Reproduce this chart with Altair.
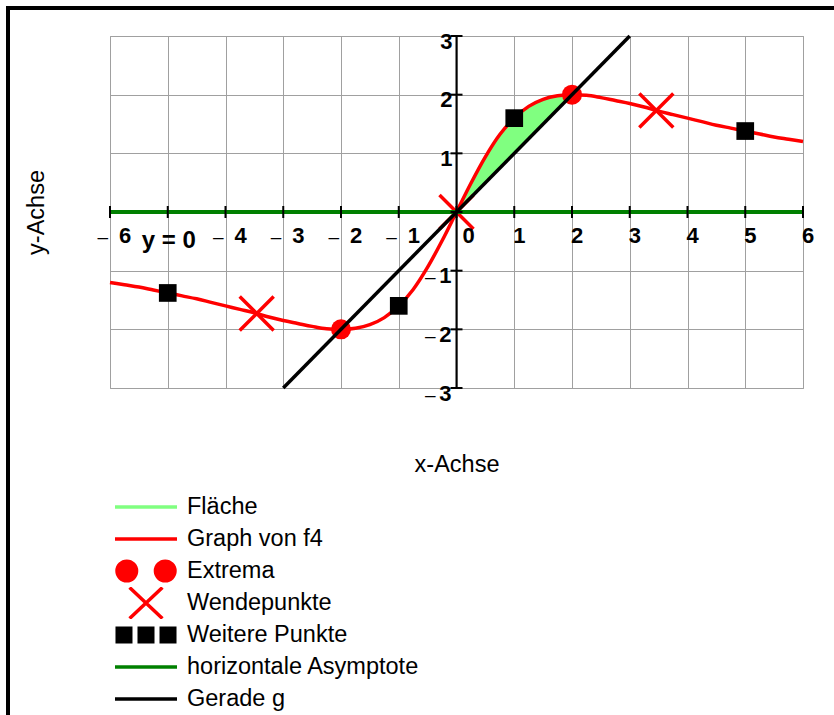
import altair as alt
import pandas as pd

FONT = "Liberation Sans"
GRID = "#a0a0a0"
RED = "#ff0000"
GREEN = "#008000"
LIGHT_GREEN = "#80ff80"

# Graph von f4 (Stützstellen)
curve_x = [-6.0, -5.75, -5.5, -5.25, -5.0, -4.75, -4.5, -4.25, -4.0, -3.75, -3.5, -3.25,
           -3.0, -2.75, -2.5, -2.25, -2.0, -1.75, -1.5, -1.25, -1.0, -0.75, -0.5, -0.25,
           0.0, 0.25, 0.5, 0.75, 1.0, 1.25, 1.5, 1.75, 2.0, 2.25, 2.5, 2.75, 3.0, 3.25,
           3.5, 3.75, 4.0, 4.25, 4.5, 4.75, 5.0, 5.25, 5.5, 5.75, 6.0]
curve_y = [-1.20, -1.24, -1.28, -1.33, -1.38, -1.43, -1.48, -1.54, -1.60, -1.66, -1.72, -1.79,
           -1.85, -1.90, -1.95, -1.99, -2.00, -1.98, -1.92, -1.80, -1.60, -1.32, -0.94, -0.49,
           0.00, 0.49, 0.94, 1.32, 1.60, 1.80, 1.92, 1.98, 2.00, 1.99, 1.95, 1.90, 1.85, 1.79,
           1.72, 1.66, 1.60, 1.54, 1.48, 1.43, 1.38, 1.33, 1.28, 1.24, 1.20]

# Fläche zwischen f4 (oben) und g (unten) auf [0, 2]
area_x = [0.0, 0.25, 0.5, 0.75, 1.0, 1.25, 1.5, 1.75, 2.0]
area_f = [0.00, 0.49, 0.94, 1.32, 1.60, 1.80, 1.92, 1.98, 2.00]
area_g = [0.0, 0.25, 0.5, 0.75, 1.0, 1.25, 1.5, 1.75, 2.0]

# besondere Punkte
extrema_x = [-2.0, 2.0]
extrema_y = [-2.0, 2.0]
wende_x = [-3.46, 0.0, 3.46]
wende_y = [-1.73, 0.0, 1.73]
weitere_x = [-5.0, -1.0, 1.0, 5.0]
weitere_y = [-1.38, -1.60, 1.60, 1.38]

# Gerade g und horizontale Asymptote
gerade_x = [-3.0, 3.0]
gerade_y = [-3.0, 3.0]
asym_x = [-6.0, 6.0]
asym_y = [0.0, 0.0]

# Achsenbeschriftung
x_ticks = [-6, -5, -4, -3, -2, -1, 0, 1, 2, 3, 4, 5, 6]
y_ticks = [-3, -2, -1, 0, 1, 2, 3]
x_neg_labels = [-6, -4, -3, -2, -1]
x_pos_labels = [1, 2, 3, 4, 5, 6]
y_pos_labels = [1, 2, 3]
y_neg_labels = [-1, -2, -3]
asym_label = "y = 0"

# Legende
legend_names = ["Fläche", "Graph von f4", "Extrema", "Wendepunkte",
                "Weitere Punkte", "horizontale Asymptote", "Gerade g"]
legend_colors = [LIGHT_GREEN, RED, RED, RED, "#000000", GREEN, "#000000"]

LINE_SYM = "M-1,0L1,0"
TWO_CIRCLES = ("M-0.935,0A0.315,0.315 0 1,0 -0.305,0A0.315,0.315 0 1,0 -0.935,0Z "
               "M0.305,0A0.315,0.315 0 1,0 0.935,0A0.315,0.315 0 1,0 0.305,0Z")
X_SYM = "M-0.53,-0.5L0.53,0.5M-0.53,0.5L0.53,-0.5"
THREE_SQUARES = ("M-0.928,-0.218H-0.492V0.218H-0.928Z "
                 "M-0.218,-0.218H0.218V0.218H-0.218Z "
                 "M0.492,-0.218H0.928V0.218H0.492Z")
legend_shapes = [LINE_SYM, LINE_SYM, TWO_CIRCLES, X_SYM, THREE_SQUARES, LINE_SYM, LINE_SYM]

X_MARK = "M-1,-1L1,1M-1,1L1,-1"

# ---------------------------------------------------------------- scales / axes
xs = alt.Scale(domain=[-6, 6], nice=False, zero=False)
ys = alt.Scale(domain=[-3, 3], nice=False, zero=False)

x_axis = alt.Axis(values=x_ticks, grid=True, gridColor=GRID, gridWidth=1, domain=False,
                  ticks=False, labels=False, title="x-Achse", titleFont=FONT,
                  titleFontSize=23.5, titleFontWeight="normal", titleColor="black",
                  titlePadding=64)
y_axis = alt.Axis(values=y_ticks, grid=True, gridColor=GRID, gridWidth=1, domain=False,
                  ticks=False, labels=False, title="y-Achse", titleFont=FONT,
                  titleFontSize=23.5, titleFontWeight="normal", titleColor="black",
                  titlePadding=62)


def X(field="x"):
    return alt.X(f"{field}:Q", scale=xs, axis=x_axis)


def Y(field="y"):
    return alt.Y(f"{field}:Q", scale=ys, axis=y_axis)


# ---------------------------------------------------------------- data frames
curve_df = pd.DataFrame({"x": curve_x, "y": curve_y})
area_df = pd.DataFrame({"x": area_x, "f": area_f, "g": area_g})
extrema_df = pd.DataFrame({"x": extrema_x, "y": extrema_y})
wende_df = pd.DataFrame({"x": wende_x, "y": wende_y})
weitere_df = pd.DataFrame({"x": weitere_x, "y": weitere_y})
gerade_df = pd.DataFrame({"x": gerade_x, "y": gerade_y})
asym_df = pd.DataFrame({"x": asym_x, "y": asym_y})
yaxis_df = pd.DataFrame({"x": [0, 0], "y": [y_ticks[0], y_ticks[-1]]})
xtick_df = pd.DataFrame({"x": x_ticks, "y": [0] * len(x_ticks)})
ytick_df = pd.DataFrame({"x": [0] * len(y_ticks), "y": y_ticks})
xneg_df = pd.DataFrame({"x": x_neg_labels, "y": [0] * len(x_neg_labels),
                        "label": [str(abs(v)) for v in x_neg_labels]})
xpos_df = pd.DataFrame({"x": x_pos_labels, "y": [0] * len(x_pos_labels),
                        "label": [str(v) for v in x_pos_labels]})
xzero_df = pd.DataFrame({"x": [0], "y": [0], "label": ["0"]})
ypos_df = pd.DataFrame({"x": [0] * len(y_pos_labels), "y": y_pos_labels,
                        "label": [str(v) for v in y_pos_labels]})
yneg_df = pd.DataFrame({"x": [0] * len(y_neg_labels), "y": y_neg_labels,
                        "label": [str(abs(v)) for v in y_neg_labels]})
asym_label_df = pd.DataFrame({"x": [-5], "y": [0], "label": [asym_label]})
legend_df = pd.DataFrame({"Serie": legend_names})
frame_df = pd.DataFrame({"k": [0]})

# ---------------------------------------------------------------- layers
area = alt.Chart(area_df).mark_area(color=LIGHT_GREEN, opacity=1, interpolate="monotone").encode(
    x=X(), y=Y("f"), y2=alt.Y2("g:Q"))

curve = alt.Chart(curve_df).mark_line(color=RED, strokeWidth=3.5, interpolate="monotone").encode(
    x=X(), y=Y())

asym = alt.Chart(asym_df).mark_line(color=GREEN, strokeWidth=4).encode(x=X(), y=Y())

yaxis = alt.Chart(yaxis_df).mark_line(color="black", strokeWidth=2).encode(x=X(), y=Y())

xticks = alt.Chart(xtick_df).mark_tick(orient="vertical", size=12, thickness=2,
                                        color="black", opacity=1).encode(x=X(), y=Y())
yticks = alt.Chart(ytick_df).mark_tick(orient="horizontal", size=12, thickness=2,
                                        color="black", opacity=1).encode(x=X(), y=Y())

extrema = alt.Chart(extrema_df).mark_point(shape="circle", filled=True, size=400, color=RED,
                                           opacity=1, strokeWidth=0).encode(x=X(), y=Y())
wende = alt.Chart(wende_df).mark_point(shape=X_MARK, filled=False, size=1156, color=RED,
                                       opacity=1, strokeWidth=3.5).encode(x=X(), y=Y())
weitere = alt.Chart(weitere_df).mark_point(shape="square", filled=True, size=313, color="black",
                                           opacity=1, strokeWidth=0).encode(x=X(), y=Y())

gerade = alt.Chart(gerade_df).mark_line(color="black", strokeWidth=3.5).encode(x=X(), y=Y())

bold = dict(font=FONT, fontWeight="bold", fontSize=22, color="black", baseline="alphabetic")
dash = dict(text="–", font=FONT, fontSize=19, color="black", baseline="alphabetic")
xneg_dash = alt.Chart(xneg_df).mark_text(align="right", dx=-2, dy=31, **dash).encode(
    x=X(), y=Y())
xneg_num = alt.Chart(xneg_df).mark_text(align="left", dx=9, dy=31, **bold).encode(
    x=X(), y=Y(), text="label:N")
xpos_num = alt.Chart(xpos_df).mark_text(align="left", dx=-1, dy=31, **bold).encode(
    x=X(), y=Y(), text="label:N")
xzero_num = alt.Chart(xzero_df).mark_text(align="left", dx=6, dy=31, **bold).encode(
    x=X(), y=Y(), text="label:N")
ypos_num = alt.Chart(ypos_df).mark_text(align="right", dx=-4, dy=12.5, **bold).encode(
    x=X(), y=Y(), text="label:N")
yneg_num = alt.Chart(yneg_df).mark_text(align="right", dx=-5, dy=12.5, **bold).encode(
    x=X(), y=Y(), text="label:N")
yneg_dash = alt.Chart(yneg_df).mark_text(align="right", dx=-21, dy=12.5, **dash).encode(
    x=X(), y=Y())
asym_text = alt.Chart(asym_label_df).mark_text(align="center", dx=1, dy=36, font=FONT,
                                               fontWeight="bold", fontSize=24, color="black",
                                               baseline="alphabetic").encode(
    x=X(), y=Y(), text="label:N")

frame = alt.Chart(frame_df).mark_rect(fillOpacity=0, stroke="black", strokeWidth=4).encode(
    x=alt.value(-102), x2=alt.value(900), y=alt.value(-28), y2=alt.value(900))

leg = alt.Legend(title=None, orient="none", legendX=3, legendY=455, padding=0,
                 symbolSize=3844, symbolStrokeWidth=3.5, symbolOpacity=1, symbolOffset=0,
                 clipHeight=32, rowPadding=0, labelOffset=8, labelFont=FONT,
                 labelFontSize=23.5, labelColor="black", labelLimit=400)
legend_layer = alt.Chart(legend_df).mark_point(opacity=0).encode(
    shape=alt.Shape("Serie:N", scale=alt.Scale(domain=legend_names, range=legend_shapes),
                    legend=leg),
    fill=alt.Fill("Serie:N", scale=alt.Scale(domain=legend_names, range=legend_colors),
                  legend=leg),
    stroke=alt.Stroke("Serie:N", scale=alt.Scale(domain=legend_names, range=legend_colors),
                      legend=leg),
)

chart = alt.layer(
    area, curve, extrema, wende, weitere, asym, yaxis, xticks, yticks, gerade,
    xneg_dash, xneg_num, xpos_num, xzero_num, ypos_num, yneg_num, yneg_dash, asym_text,
    frame, legend_layer,
).properties(
    width=693,
    height=352,
    padding={"left": 110, "top": 36, "right": 31, "bottom": 327},
    autosize=alt.AutoSizeParams(type="none"),
    background="white",
).configure_view(stroke=GRID, strokeWidth=1)

chart.save("out.html", embed_options={"renderer": "svg", "actions": False})
